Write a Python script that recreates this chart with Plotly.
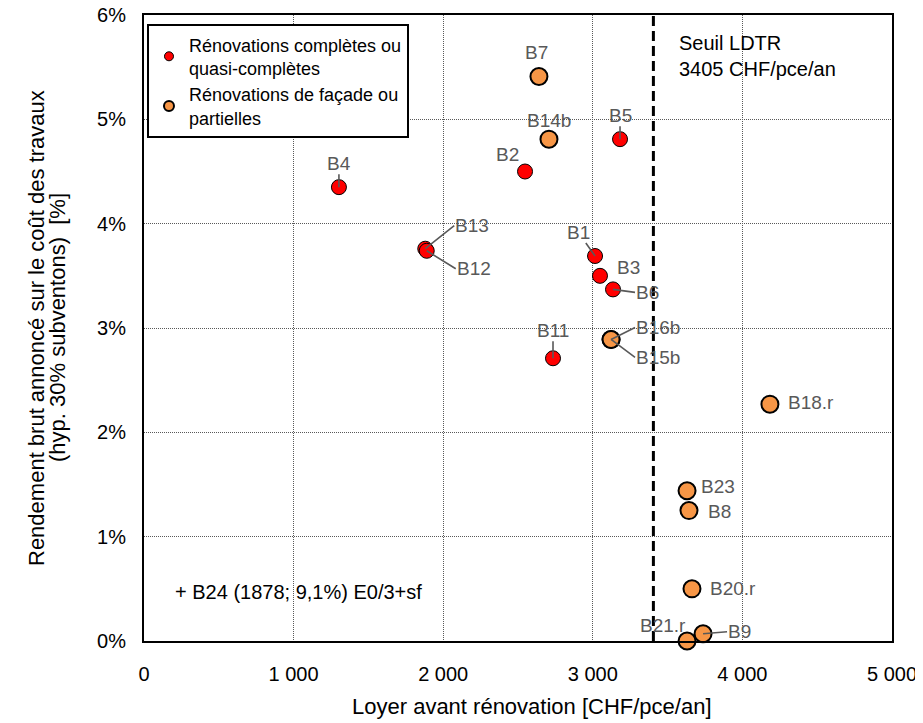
import plotly.graph_objects as go

# ---- data ----
full_labels = ["B4", "B2", "B5", "B13", "B12", "B1", "B3", "B6", "B11"]
full_x = [1303, 2547, 3182, 1880, 1890, 3015, 3048, 3135, 2734]
full_y = [4.35, 4.50, 4.81, 3.76, 3.74, 3.69, 3.50, 3.37, 2.71]

part_labels = ["B7", "B14b", "B16b", "B15b", "B18.r", "B23", "B8", "B20.r", "B21.r", "B9"]
part_x = [2640, 2707, 3122, 3122, 4184, 3630, 3643, 3663, 3630, 3737]
part_y = [5.41, 4.81, 2.89, 2.89, 2.27, 1.44, 1.25, 0.50, 0.00, 0.07]

ldtr_threshold = 3405
x_tickvals = [0, 1000, 2000, 3000, 4000, 5000]
x_ticktext = ["0", "1 000", "2 000", "3 000", "4 000", "5 000"]
y_tickvals = [0, 1, 2, 3, 4, 5, 6]
y_ticktext = ["0%", "1%", "2%", "3%", "4%", "5%", "6%"]

x_title = "Loyer avant rénovation [CHF/pce/an]"
y_title_lines = ["Rendement brut annoncé sur le coût des travaux", "(hyp. 30% subventons)  [%]"]

# ---- label placement (pixel offsets, anchor, leader line) ----
label_style = {
    "B4": (0, -24, "center", True),
    "B2": (-18, -17, "center", False),
    "B5": (0, -24, "center", True),
    "B13": (29, -23, "left", True),
    "B12": (29, 18, "left", True),
    "B1": (-17, -24, "center", True),
    "B3": (16, -8, "left", False),
    "B6": (22, 3, "left", True),
    "B11": (0, -28, "center", True),
    "B7": (-2, -24, "center", False),
    "B14b": (0, -19, "center", False),
    "B16b": (24, -12, "left", True),
    "B15b": (24, 18, "left", True),
    "B18.r": (17, -2, "left", False),
    "B23": (13, -4, "left", False),
    "B8": (18, 1, "left", False),
    "B20.r": (17, 0, "left", False),
    "B21.r": (-24, -16, "center", False),
    "B9": (24, -2, "left", True),
}

FONT = "Liberation Sans, Arial, sans-serif"
GRAY = "#595959"
RED = "#FF0000"
ORANGE = "#F79646"

fig = go.Figure()

fig.add_trace(go.Scatter(
    x=full_x, y=full_y, mode="markers", showlegend=False, cliponaxis=False,
    marker=dict(size=15, color=RED, line=dict(color="black", width=1)),
))
fig.add_trace(go.Scatter(
    x=part_x, y=part_y, mode="markers", showlegend=False, cliponaxis=False,
    marker=dict(size=17, color=ORANGE, line=dict(color="black", width=2)),
))
fig.add_trace(go.Scatter(
    x=[None], y=[None], mode="markers", name="Rénovations complètes ou<br>quasi-complètes",
    marker=dict(size=9, color=RED, line=dict(color="black", width=1)),
))
fig.add_trace(go.Scatter(
    x=[None], y=[None], mode="markers", name="Rénovations de façade ou<br>partielles",
    marker=dict(size=10, color=ORANGE, line=dict(color="black", width=2)),
))

fig.add_shape(type="line", xref="x", yref="y", x0=ldtr_threshold, x1=ldtr_threshold,
              y0=0, y1=6, line=dict(color="black", width=3, dash="10px,5px"))

LABEL_SIZE = 19
annotations = []
for labs, xs, ys in ((full_labels, full_x, full_y), (part_labels, part_x, part_y)):
    for lab, xv, yv in zip(labs, xs, ys):
        ax, ay, anchor, leader = label_style[lab]
        if leader:
            annotations.append(dict(
                x=xv, y=yv, xref="x", yref="y", text=lab, showarrow=True,
                ax=ax, ay=ay, axref="pixel", ayref="pixel", xanchor=anchor, yanchor="middle",
                arrowhead=0, arrowwidth=1.6, arrowcolor=GRAY, standoff=0, borderpad=0,
                font=dict(family=FONT, size=LABEL_SIZE, color=GRAY),
            ))
        else:
            annotations.append(dict(
                x=xv, y=yv, xref="x", yref="y", text=lab, showarrow=False,
                xshift=ax, yshift=-ay, xanchor=anchor, yanchor="middle", borderpad=0,
                font=dict(family=FONT, size=LABEL_SIZE, color=GRAY),
            ))

annotations.append(dict(
    x=0.714, y=0.975, xref="paper", yref="paper", text="Seuil LDTR<br>3405 CHF/pce/an",
    showarrow=False, xanchor="left", yanchor="top", align="left", borderpad=0,
    font=dict(family=FONT, size=20, color="black"),
))
annotations.append(dict(
    x=0.040, y=0.078, xref="paper", yref="paper", text="+ B24 (1878; 9,1%) E0/3+sf",
    showarrow=False, xanchor="left", yanchor="middle", align="left", borderpad=0,
    font=dict(family=FONT, size=20, color="black"),
))
# axis titles
annotations.append(dict(
    x=0.519, y=0, xref="paper", yref="paper", text=x_title, showarrow=False,
    xanchor="center", yanchor="middle", yshift=-65,
    font=dict(family=FONT, size=22, color="black"),
))
for line, shift in zip(y_title_lines, (-108, -87)):
    annotations.append(dict(
        x=0, y=0.5, xref="paper", yref="paper", text=line, showarrow=False,
        textangle=-90, xanchor="center", yanchor="middle", xshift=shift,
        font=dict(family=FONT, size=22, color="black"),
    ))

fig.update_layout(
    width=915, height=715,
    margin=dict(l=136, r=31, t=7, b=82, autoexpand=False),
    paper_bgcolor="white", plot_bgcolor="white",
    font=dict(family=FONT, size=20, color="black"),
    annotations=annotations,
    legend=dict(
        x=0.004, y=0.985, xanchor="left", yanchor="top",
        bgcolor="white", bordercolor="black", borderwidth=2,
        font=dict(family=FONT, size=18, color="black"),
        itemwidth=30, tracegroupgap=2,
    ),
)
fig.update_xaxes(
    range=[0, 5000], tickvals=x_tickvals, ticktext=x_ticktext, automargin=False,
    showgrid=True, gridcolor="#595959", griddash="1px,1px", gridwidth=1,
    showline=True, linecolor="black", linewidth=2, mirror=True, zeroline=False,
    ticks="", ticklabelstandoff=14, ticklabeloverflow="allow",
    tickfont=dict(family=FONT, size=20, color="black"),
)
fig.update_yaxes(
    range=[0, 6], tickvals=y_tickvals, ticktext=y_ticktext, automargin=False,
    showgrid=True, gridcolor="#595959", griddash="1px,1px", gridwidth=1,
    showline=True, linecolor="black", linewidth=2, mirror=True, zeroline=False,
    ticks="", ticklabelstandoff=12, ticklabeloverflow="allow",
    tickfont=dict(family=FONT, size=20, color="black"),
)

fig.write_html("out.html")
